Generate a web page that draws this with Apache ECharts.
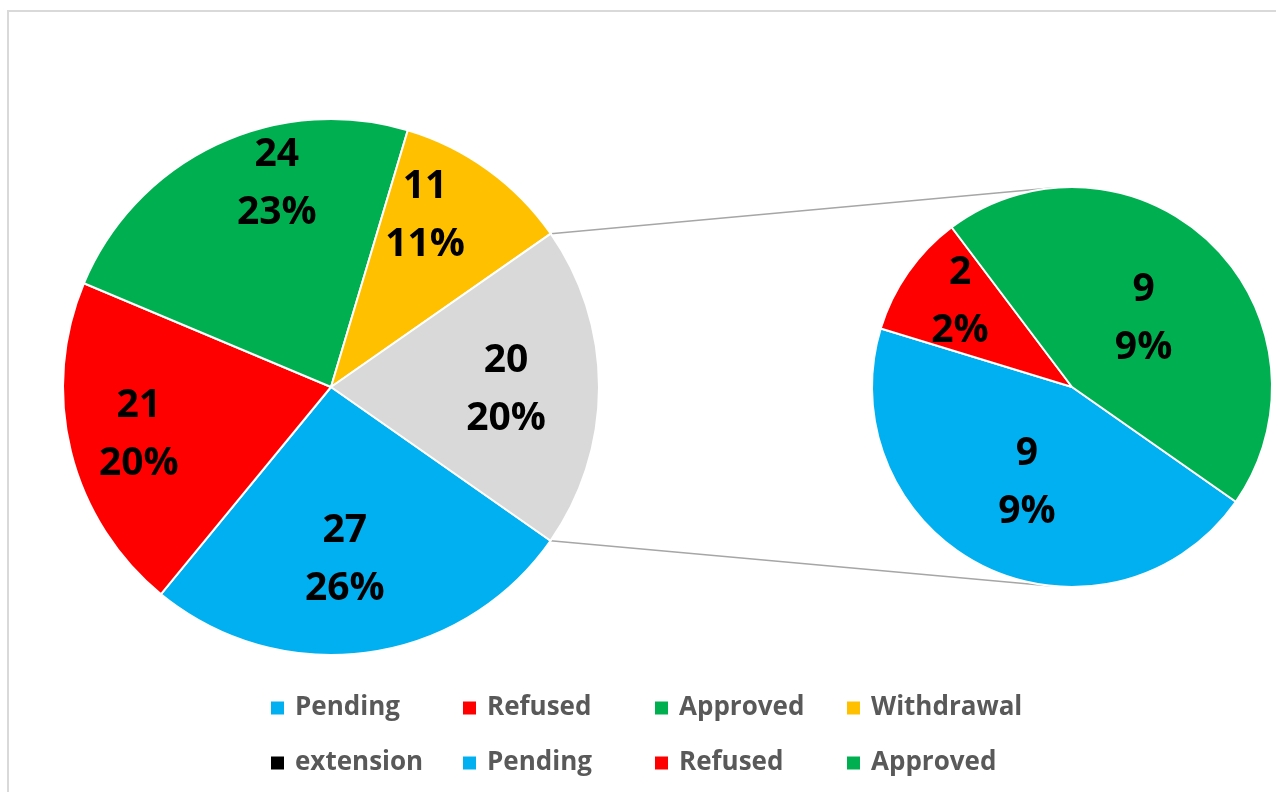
<!DOCTYPE html>
<html>
<head>
<meta charset="utf-8">
<script src="https://cdn.jsdelivr.net/npm/echarts@6/dist/echarts.min.js"></script>
<style>
  html, body { margin: 0; padding: 0; background: #fff; }
  #chart { width: 1276px; height: 792px; }
</style>
</head>
<body>
<div id="chart"></div>
<script>
// ---- data ----
const mainCategories = ['Pending', 'Refused', 'Approved', 'Withdrawal', 'extension'];
const mainValues = [27, 21, 24, 11, 0];
const mainPercents = [26, 20, 23, 11, 0];
const otherName = 'Other';
const otherValue = 20;
const otherPercent = 20;
const secondaryCategories = ['Pending', 'Refused', 'Approved'];
const secondaryValues = [9, 2, 9];
const secondaryPercents = [9, 2, 9];
const legendLabels = ['Pending', 'Refused', 'Approved', 'Withdrawal', 'extension', 'Pending', 'Refused', 'Approved'];

// ---- styles ----
const colorMap = {
  Pending: '#00B0F0', Refused: '#FF0000', Approved: '#00B050',
  Withdrawal: '#FFC000', extension: '#000000', Other: '#D9D9D9'
};
const MAIN_CENTER = [331, 387], MAIN_R = 268;
const SEC_CENTER = [1072, 387], SEC_R = 200;
const START = 325;
const FONT = '"Open Sans", "Liberation Sans", sans-serif';
// small label nudges (Excel "best fit" placement is not exactly on the mid-angle)
const mainNudge = { Pending: [-10, 0], Approved: [36, -12], Withdrawal: [-22, -11], Other: [0, 3] };
const secNudge = { Pending: [0, 3], Refused: [6, -3], Approved: [0, 6] };

const labelStyle = {
  position: 'inside',
  fontFamily: FONT, fontWeight: 'bold', fontSize: 39, lineHeight: 58,
  color: '#000',
  formatter: p => p.data.value + '\n' + p.data.pct + '%'
};

function item(prefix, c, v, pct, showSet, transparent, nudge, border) {
  return {
    name: prefix + c, value: v, pct: pct,
    itemStyle: transparent ? { color: 'rgba(0,0,0,0)', borderWidth: 0 }
      : { color: colorMap[c], borderWidth: border, borderColor: '#fff' },
    label: { show: showSet.indexOf(c) >= 0, offset: nudge[c] || [0, 0] }
  };
}
function mainData(prefix, showSet, transparent) {
  const arr = mainCategories.map((c, i) =>
    item(prefix, c, mainValues[i], mainPercents[i], showSet, transparent, mainNudge, mainValues[i] === 0 ? 0 : 2));
  arr.push(item(prefix, otherName, otherValue, otherPercent, showSet, transparent, mainNudge, 2));
  return arr;
}
function secData(prefix, showSet, transparent) {
  return secondaryCategories.map((c, i) =>
    item(prefix, c, secondaryValues[i], secondaryPercents[i], showSet, transparent, secNudge, 2));
}

function pieBase(center, radius, data, overlay) {
  return {
    type: 'pie', center: center, radius: radius, startAngle: START, clockwise: true,
    avoidLabelOverlap: false, silent: !!overlay, z: overlay ? 5 : 2,
    label: labelStyle, labelLine: { show: false },
    emphasis: { disabled: true }, animation: false,
    data: data
  };
}
// label-only overlay rings so labels sit at the radial distances of the original
function ring(mid, R) { return [2 * mid - R, R]; }

const series = [
  pieBase(MAIN_CENTER, MAIN_R, mainData('', [], false), false),
  pieBase(SEC_CENTER, SEC_R, secData('', ['Pending', 'Approved'], false), false),
  pieBase(MAIN_CENTER, ring(172, MAIN_R), mainData('#', ['Pending', otherName], true), true),
  pieBase(MAIN_CENTER, ring(195, MAIN_R), mainData('#', ['Refused', 'Withdrawal'], true), true),
  pieBase(MAIN_CENTER, ring(208, MAIN_R), mainData('#', ['Approved'], true), true),
  pieBase(SEC_CENTER, ring(141, SEC_R), secData('#', ['Refused'], true), true)
];

// legends: 2 rows x 4 columns
const legends = legendLabels.map((name, i) => ({
  data: [name],
  left: 271 + 192 * (i % 4),
  top: i < 4 ? 693 : 748,
  padding: 0,
  icon: 'rect', itemWidth: 13, itemHeight: 13,
  itemStyle: { borderWidth: 0 },
  selectedMode: false,
  textStyle: { fontFamily: FONT, fontWeight: 'bold', fontSize: 26, lineHeight: 30, color: '#595959', padding: [0, 0, 0, 6] }
}));

// connector lines: from the "Other" slice edges to tangents of the secondary pie
const otherStart = START - 360 * (1 - otherValue / (mainValues.reduce((a, b) => a + b, 0) + otherValue));
function edgePoint(deg) {
  const r = deg * Math.PI / 180;
  return [MAIN_CENTER[0] + MAIN_R * Math.cos(r), MAIN_CENTER[1] - MAIN_R * Math.sin(r)];
}
function tangent(P, top) {
  const dx = P[0] - SEC_CENTER[0], dy = P[1] - SEC_CENTER[1];
  const dist = Math.sqrt(dx * dx + dy * dy);
  const phi = Math.atan2(dy, dx), a = Math.acos(SEC_R / dist);
  const t1 = [SEC_CENTER[0] + SEC_R * Math.cos(phi + a), SEC_CENTER[1] + SEC_R * Math.sin(phi + a)];
  const t2 = [SEC_CENTER[0] + SEC_R * Math.cos(phi - a), SEC_CENTER[1] + SEC_R * Math.sin(phi - a)];
  return top ? (t1[1] < t2[1] ? t1 : t2) : (t1[1] > t2[1] ? t1 : t2);
}
const pTop = edgePoint(otherStart), pBot = edgePoint(START);
const tTop = tangent(pTop, true), tBot = tangent(pBot, false);

const chart = echarts.init(document.getElementById('chart'), null, { renderer: 'canvas' });
chart.setOption({
  backgroundColor: '#fff',
  animation: false,
  legend: legends,
  series: series,
  graphic: [
    { type: 'rect', z: 0, silent: true, shape: { x: 8, y: 11, width: 1400, height: 1000 },
      style: { fill: 'none', stroke: '#D9D9D9', lineWidth: 2 } },
    { type: 'line', z: 1, silent: true, shape: { x1: pTop[0], y1: pTop[1], x2: tTop[0], y2: tTop[1] },
      style: { stroke: '#A6A6A6', lineWidth: 1.5 } },
    { type: 'line', z: 1, silent: true, shape: { x1: pBot[0], y1: pBot[1], x2: tBot[0], y2: tBot[1] },
      style: { stroke: '#A6A6A6', lineWidth: 1.5 } }
  ]
});
</script>
</body>
</html>
